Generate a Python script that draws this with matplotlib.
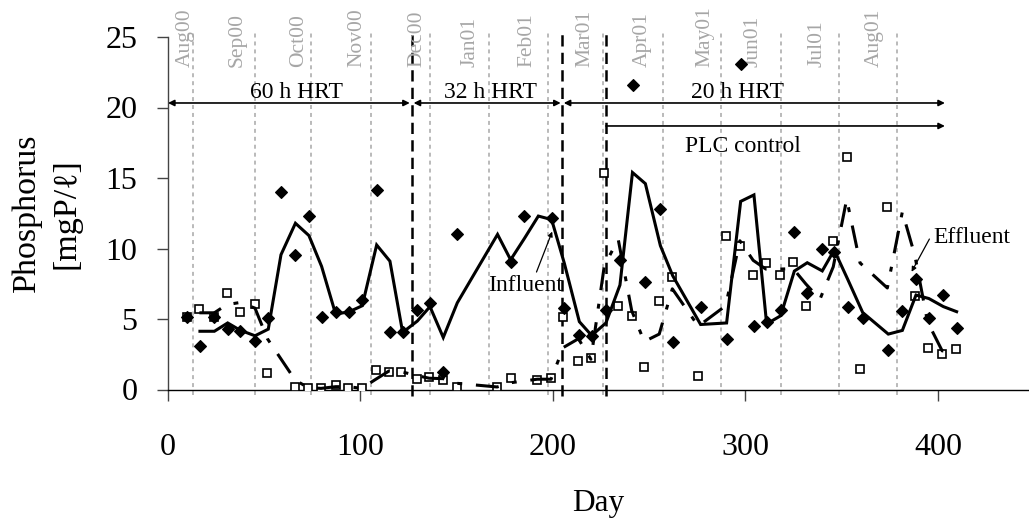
import matplotlib
matplotlib.use('Agg')
import matplotlib.pyplot as plt

plt.rcParams['font.family'] = ['Liberation Serif', 'DejaVu Serif']

# ---------------- data ----------------
infl_day = [9.7, 16.6, 24.1, 31.0, 37.4, 45.2, 52.1, 58.7, 66.2, 73.2, 79.8, 87.1, 94.2,
            100.9, 108.4, 115.3, 121.9, 129.5, 136.1, 143.0, 150.3, 178.0, 185.1, 199.3,
            205.9, 213.7, 220.1, 227.5, 234.8, 241.4, 248.0, 255.8, 262.2, 276.7, 290.2,
            297.5, 304.4, 311.0, 318.3, 325.4, 332.1, 339.9, 346.1, 353.1, 360.9, 374.2,
            381.5, 388.6, 395.3, 402.8, 409.7]
infl_val = [5.16, 3.1, 5.16, 4.27, 4.15, 3.46, 5.09, 14.03, 9.54, 12.3, 5.16, 5.52, 5.52,
            6.35, 14.15, 4.05, 4.05, 5.64, 6.11, 1.26, 11.03, 9.07, 12.3, 12.14,
            5.76, 3.87, 3.8, 5.64, 9.18, 21.6, 7.6, 12.8, 3.35, 5.87, 3.58,
            23.1, 4.5, 4.81, 5.64, 11.15, 6.82, 10.0, 9.77, 5.87, 5.05, 2.8,
            5.57, 7.84, 5.05, 6.7, 4.34]

effl_day = [9.7, 16.3, 24.1, 30.5, 37.4, 45.2, 51.6, 66.0, 72.6, 79.5, 87.1, 93.7, 100.6,
            108.0, 114.9, 121.3, 129.1, 135.7, 143.0, 150.0, 171.0, 178.0, 191.9, 199.0,
            205.4, 213.2, 219.7, 226.7, 233.9, 240.9, 247.4, 255.2, 262.0, 275.5, 289.7,
            297.1, 304.0, 310.6, 317.9, 324.8, 331.4, 345.6, 352.6, 359.5, 373.7, 388.0,
            394.6, 402.2, 409.2]
effl_val = [5.16, 5.71, 5.16, 6.87, 5.47, 6.06, 1.15, 0.2, 0.08, 0.08, 0.32, 0.08, 0.08,
            1.38, 1.26, 1.26, 0.72, 0.87, 0.67, 0.2, 0.16, 0.79, 0.67, 0.79,
            5.16, 2.04, 2.26, 15.33, 5.94, 5.23, 1.57, 6.28, 8.0, 0.98, 10.89,
            10.2, 8.12, 8.95, 8.12, 9.02, 5.94, 10.53, 16.5, 1.45, 12.96, 6.63,
            2.96, 2.52, 2.85]

# influent trend line (solid)
infl_line_day = [16.6, 24.1, 31.0, 37.4, 45.2, 52.1, 58.7, 66.2, 73.2, 79.8, 87.1, 94.2,
                 100.9, 108.4, 115.3, 121.9, 129.5, 136.1, 143.0, 150.3, 171.2, 178.0,
                 185.1, 192.4, 199.3, 205.9, 213.7, 220.1, 227.5, 234.8, 241.3, 248.0,
                 255.8, 262.2, 276.7, 290.2, 297.5, 304.4, 311.0, 318.3, 325.4, 332.1,
                 339.9, 346.1, 353.1, 360.9, 374.2, 381.5, 388.6, 395.3, 402.8, 409.7]
infl_line_val = [4.13, 4.13, 4.72, 4.21, 3.81, 4.28, 9.56, 11.79, 10.92, 8.73, 5.34, 5.52,
                 5.94, 10.25, 9.1, 4.05, 4.85, 5.88, 3.69, 6.15, 11.0, 9.2,
                 10.7, 12.3, 12.05, 8.95, 4.81, 3.83, 4.72, 7.41, 15.39, 14.6,
                 10.2, 8.07, 4.61, 4.72, 13.34, 13.8, 4.65, 5.23, 8.4, 8.99,
                 8.41, 9.89, 7.82, 5.46, 3.93, 4.19, 6.7, 6.45, 5.88, 5.52]

# effluent trend line (dash-dot)
effl_line_day = [16.3, 24.1, 30.5, 37.4, 45.2, 51.6, 66.0, 72.6, 79.5, 87.1, 93.7, 100.6,
                 108.0, 114.9, 121.3, 129.1, 135.7, 143.0, 150.0, 171.0, 178.0, 191.9,
                 199.0, 205.4, 213.2, 219.7, 226.7, 233.9, 240.9, 247.4, 255.2, 262.0,
                 275.5, 289.7, 297.1, 304.0, 310.6, 317.9, 324.8, 331.4, 338.7, 345.6,
                 352.6, 359.5, 373.7, 381.5, 388.0, 394.6, 402.2, 409.2]
effl_line_val = [5.44, 5.44, 6.02, 6.17, 5.77, 3.61, 0.68, 0.14, 0.08, 0.2, 0.2, 0.08,
                 0.73, 1.32, 1.26, 0.99, 0.8, 0.77, 0.44, 0.18, 0.48, 0.73,
                 0.73, 2.98, 3.6, 2.15, 8.8, 10.64, 5.59, 3.4, 3.93, 7.14,
                 4.49, 5.94, 10.55, 9.16, 8.54, 8.54, 8.57, 7.48, 6.4, 8.7,
                 13.5, 8.98, 7.2, 12.6, 9.5, 4.8, 2.74, 2.69]

months = ['Aug00', 'Sep00', 'Oct00', 'Nov00', 'Dec00', 'Jan01', 'Feb01',
          'Mar01', 'Apr01', 'May01', 'Jun01', 'Jul01', 'Aug01']
month_line_day = [13.0, 45.2, 74.3, 105.5, 136.1, 166.8, 197.4, 226.0, 257.1,
                  287.3, 318.4, 348.6, 378.7]
month_label_day = [8.8, 35.8, 68.1, 98.2, 129.4, 156.9, 186.5, 216.6, 246.2,
                   278.9, 303.9, 337.1, 366.8]

phase_day = [126.8, 204.7, 227.5]
hrt_labels = ['60 h HRT', '32 h HRT', '20 h HRT']
hrt_label_day = [67.0, 167.3, 296.1]
hrt_start = [0.0, 127.6, 205.6]
hrt_end = [125.6, 204.0, 403.6]
plc_start, plc_end = 227.5, 403.6

y_ticks = [0, 5, 10, 15, 20, 25]
x_ticks = [0, 100, 200, 300, 400]

# ---------------- figure ----------------
fig = plt.figure(figsize=(10.29, 5.21), dpi=100)
ax = fig.add_axes([168 / 1029, 131.5 / 521, (1029 - 168) / 1029, 352.5 / 521])
ax.set_xlim(0, 447.3)
ax.set_ylim(0, 25)

for s in ['top', 'right']:
    ax.spines[s].set_visible(False)
ax.spines['left'].set_color('#444444')
ax.spines['left'].set_linewidth(1.0)
ax.spines['bottom'].set_color('black')
ax.spines['bottom'].set_linewidth(1.0)

ax.set_yticks(y_ticks)
ax.set_xticks(x_ticks)
ax.tick_params(axis='both', direction='out', length=8, width=1.0, colors='#444444',
               labelcolor='black', labelsize=23)
ax.tick_params(axis='y', pad=14)
ax.tick_params(axis='x', pad=23)

ax.set_xlabel('Day', fontsize=22.5, labelpad=20)
ax.set_ylabel('Phosphorus\n[mgP/\u2113]', fontsize=24.5, labelpad=17, linespacing=1.4)

# month grid lines and labels
for d, lab, ld in zip(month_line_day, months, month_label_day):
    ax.plot([d, d], [-0.4, 25.35], color='#b4b4b4', lw=1.3, ls=(0, (2.2, 2.2)),
            clip_on=False, zorder=1)
    ax.text(ld, 22.87, lab, rotation=90, ha='center', va='bottom', color='#a6a6a6',
            fontsize=15.5, clip_on=False)

# phase change lines
for d in phase_day:
    ax.plot([d, d], [-0.45, 25.3], color='black', lw=1.8, ls=(0, (4.5, 2.5)),
            clip_on=False, zorder=2)

# HRT arrows
y_hrt = 20.32
for lab, tx, a, b in zip(hrt_labels, hrt_label_day, hrt_start, hrt_end):
    ax.annotate('', xy=(b, y_hrt), xytext=(a, y_hrt),
                arrowprops=dict(arrowstyle='<|-|>', lw=1.2, color='black',
                                mutation_scale=9, shrinkA=0, shrinkB=0),
                annotation_clip=False)
    ax.text(tx, 20.67, lab, ha='center', va='baseline', fontsize=17)
ax.annotate('', xy=(plc_end, 18.69), xytext=(plc_start, 18.69),
            arrowprops=dict(arrowstyle='-|>', lw=1.2, color='black',
                            mutation_scale=9, shrinkA=0, shrinkB=0))
ax.text(298.7, 16.87, 'PLC control', ha='center', va='baseline', fontsize=17)

# data markers
ax.plot(effl_day, effl_val, ls='none', marker='s', markersize=6.2, mfc='white',
        mec='black', mew=1.2, zorder=3)
ax.plot(infl_day, infl_val, ls='none', marker='D', markersize=5.8, mfc='black',
        mec='black', mew=0.8, zorder=4)

# trend lines
ax.plot(infl_line_day, infl_line_val, color='black', lw=2.2, zorder=5,
        solid_joinstyle='miter')
ax.plot(effl_line_day, effl_line_val, color='black', lw=2.2, zorder=5,
        ls=(0, (7.5, 4.5, 1.6, 4.5)))

# annotations
ax.annotate('Influent', xy=(199.6, 11.2), xytext=(186.0, 7.0), ha='center', va='baseline',
            fontsize=17,
            arrowprops=dict(arrowstyle='-|>', lw=0.9, color='black', mutation_scale=7,
                            shrinkA=0, shrinkB=0, relpos=(0.62, 0.95)))
ax.annotate('Effluent', xy=(386.3, 8.35), xytext=(417.7, 10.37), ha='center',
            va='baseline', fontsize=17, annotation_clip=False,
            arrowprops=dict(arrowstyle='-|>', lw=0.9, color='black', mutation_scale=7,
                            shrinkA=2, shrinkB=0, relpos=(0.0, 0.8)))

fig.savefig('out.png', dpi=100)
